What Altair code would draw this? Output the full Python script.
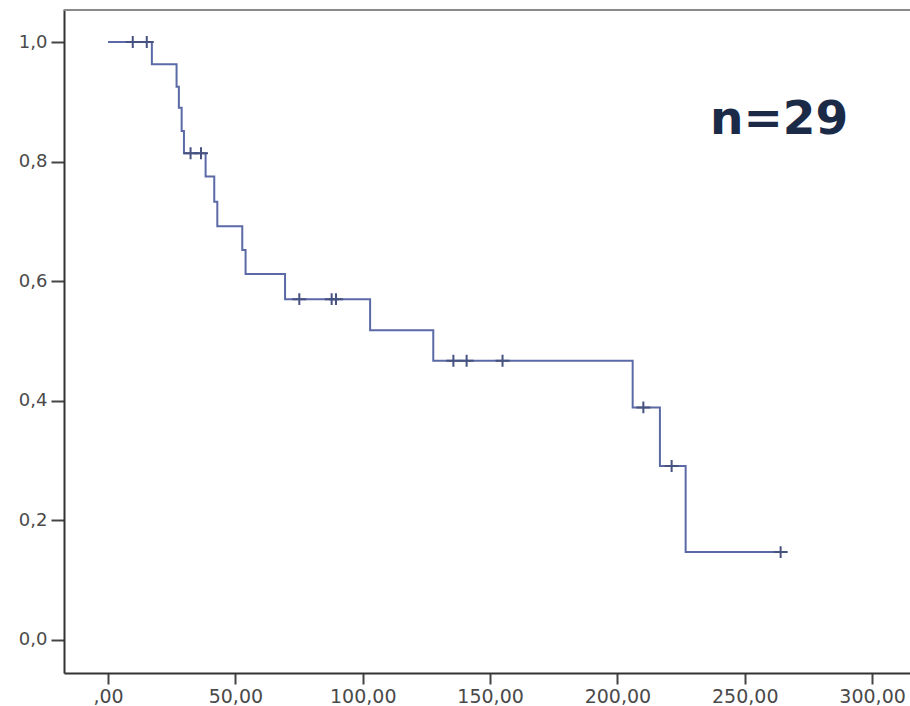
import altair as alt
import pandas as pd

# Kaplan-Meier steps
step_times = [0, 17.2, 26.9, 27.8, 28.9, 29.8, 38.3, 41.7, 42.9, 52.7, 54.0, 69.5,
              102.9, 127.7, 206.0, 216.7, 226.8, 264.1]
step_surv = [1.0, 0.963, 0.925, 0.890, 0.851, 0.814, 0.775, 0.733, 0.692, 0.652,
             0.612, 0.570, 0.518, 0.467, 0.389, 0.291, 0.147, 0.147]

# censored observations
cens_times = [9.7, 15.2, 32.4, 36.5, 75.1, 87.8, 89.5, 135.6, 140.8, 154.9, 210.2, 221.3, 264.1]
cens_surv = [1.0, 1.0, 0.814, 0.814, 0.570, 0.570, 0.570, 0.467, 0.467, 0.467, 0.389, 0.291, 0.147]

x_ticks = [0, 50, 100, 150, 200, 250, 300]
y_ticks = [0.0, 0.2, 0.4, 0.6, 0.8, 1.0]
annotation = "n=29"

steps = pd.DataFrame({"t": step_times, "s": step_surv})
cens = pd.DataFrame({"t": cens_times, "s": cens_surv})

W, H = 846, 664
xscale = alt.Scale(domain=[-17.3, 314.9], nice=False, zero=False)
yscale = alt.Scale(domain=[-0.0552, 1.0552], nice=False, zero=False)

xaxis = alt.Axis(values=x_ticks, title=None, grid=False,
                 labelExpr="datum.value == 0 ? ',00' : replace(format(datum.value, '.2f'), '.', ',')",
                 tickSize=11, tickWidth=2, tickColor="#444444", labelPadding=3,
                 domainColor="#333333", domainWidth=2,
                 labelFont="DejaVu Sans", labelFontSize=19, labelColor="#4a4a4a")
yaxis = alt.Axis(values=y_ticks, title=None, grid=False,
                 labelExpr="replace(format(datum.value, '.1f'), '.', ',')",
                 tickSize=13, tickWidth=2, tickColor="#444444", labelPadding=4,
                 domainColor="#333333", domainWidth=2,
                 labelFont="DejaVu Sans", labelFontSize=18, labelColor="#4a4a4a")

line = alt.Chart(steps).mark_line(interpolate="step-after", color="#5b6aa6", strokeWidth=2).encode(
    x=alt.X("t:Q", scale=xscale, axis=xaxis),
    y=alt.Y("s:Q", scale=yscale, axis=yaxis),
)

marks = alt.Chart(cens).mark_point(
    shape="M-1,0L1,0M0,-0.85L0,0.85", filled=False, size=196,
    color="#46527f", strokeWidth=2, opacity=1
).encode(
    x=alt.X("t:Q", scale=xscale),
    y=alt.Y("s:Q", scale=yscale),
)

top = alt.Chart(pd.DataFrame({"a": [0]})).mark_rule(color="#8a8a8a", strokeWidth=2).encode(
    x=alt.value(0), x2=alt.value(W), y=alt.value(1)
)

label = alt.Chart(pd.DataFrame({"txt": [annotation]})).mark_text(
    font="DejaVu Sans", fontWeight="bold", fontSize=47, color="#1b2a47",
    align="left", baseline="alphabetic"
).encode(text="txt:N", x=alt.value(646), y=alt.value(125))

chart = alt.layer(line, marks, top, label).properties(
    width=W, height=H,
    autosize=alt.AutoSizeParams(type="none"),
    padding={"left": 64, "top": 9, "right": 0, "bottom": 33},
    background="white",
).configure_view(stroke=None)

chart.save("out.html", embed_options={"renderer": "svg", "actions": False})
